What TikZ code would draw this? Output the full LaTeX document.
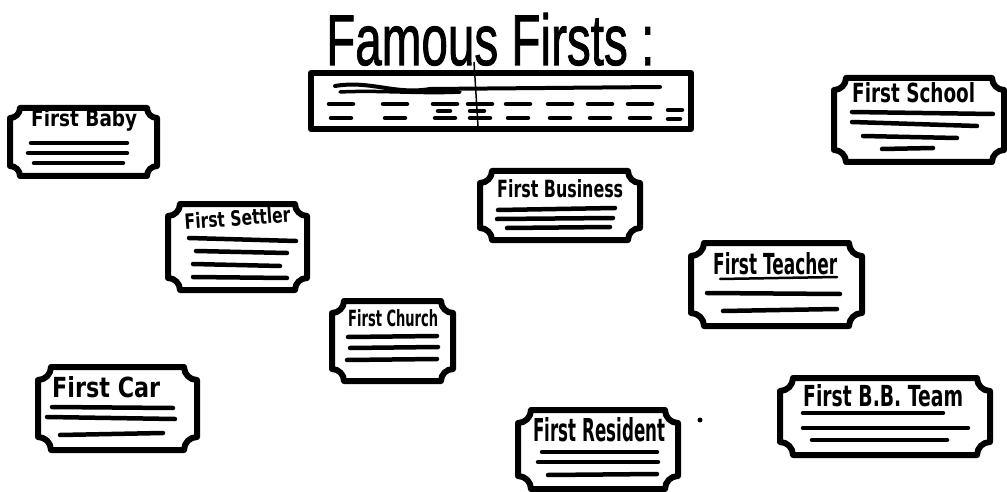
\documentclass[tikz,border=0pt]{standalone}
\usepackage{fontspec}
\setmainfont{Liberation Sans}[FakeBold=1.5]
\newfontfamily\handfont{DejaVu Sans}
\newcommand\lab[3]{\resizebox{#1pt}{#2pt}{\handfont\bfseries #3}}
\newcommand\ticket[5]{%
 \draw[cardline] (#1+#5,#2) -- (#3-#5,#2)
  .. controls (#3-#5,#2+0.55*#5) and (#3-0.55*#5,#2+#5) .. (#3,#2+#5)
  -- (#3,#4-#5)
  .. controls (#3-0.55*#5,#4-#5) and (#3-#5,#4-0.55*#5) .. (#3-#5,#4)
  -- (#1+#5,#4)
  .. controls (#1+#5,#4-0.55*#5) and (#1+0.55*#5,#4-#5) .. (#1,#4-#5)
  -- (#1,#2+#5)
  .. controls (#1+0.55*#5,#2+#5) and (#1+#5,#2+0.55*#5) .. (#1+#5,#2) -- cycle;}
\tikzset{
 cardline/.style={line width=6pt, line join=round, line cap=round},
 textline/.style={line width=4.5pt, line cap=round},
 dashline/.style={line width=4.5pt, line cap=round},
 labelnode/.style={inner sep=0pt, anchor=south west}
}
\begin{document}
\begin{tikzpicture}[x=1pt,y=-1pt]
\useasboundingbox (0,0) rectangle (1007,492);
% title
\node[labelnode, anchor=base west] (title) at (326,65) {\resizebox{328pt}{52pt}{Famous Firsts :}};
% banner
\draw[cardline] (311,73) rectangle (691,129);
\draw[line width=4pt, line cap=round] (335,86) .. controls (370,80) and (395,95) .. (430,89) -- (660,87);
\draw[line width=3.5pt, line cap=round] (340,92) .. controls (380,90) and (420,94) .. (460,92);
\draw[line width=1.5pt] (474,62) -- (478,126);
\foreach \x in {329,383,433,468,506,548,588,628}{
 \draw[dashline] (\x,104) -- (\x+24,104);
 \draw[dashline] (\x+2,118) -- (\x+22,118);
}
\draw[dashline] (438,111) -- (450,111);
\draw[dashline] (470,111) -- (484,111);
\draw[dashline] (668,110) -- (682,110);
\draw[dashline] (668,119) -- (680,119);

% First Baby
\ticket{10}{108}{157}{176}{10}
\node[labelnode] (baby) at (31,132) {\lab{106}{17}{First Baby}};
\draw[textline] (31,143) -- (127,143);
\draw[textline] (28,153) -- (127,153);
\draw[textline] (34,163) -- (123,163);

% First Settler
\ticket{168}{204}{307}{290}{12}
\node[labelnode, rotate=4] (settler) at (185,230) {\lab{106}{16}{First Settler}};
\draw[textline] (189,238) -- (296,241);
\draw[textline] (196,251) -- (287,253);
\draw[textline] (193,264) -- (280,266);
\draw[textline] (193,277) -- (287,278);

% First Business
\ticket{480}{171}{640}{240}{12}
\node[labelnode] (business) at (497,198) {\lab{126}{18}{First Business}};
\draw[textline] (498,210) -- (615,208);
\draw[textline] (497,219) -- (613,218);
\draw[textline] (507,228) -- (610,227);

% First School
\ticket{834}{78}{1004}{162}{12}
\node[labelnode] (school) at (852,103) {\lab{123}{20}{First School}};
\draw[textline] (852,112) -- (993,114);
\draw[textline] (852,122) -- (977,126);
\draw[textline] (863,136) -- (957,138);
\draw[textline] (882,149) -- (933,148);

% First Teacher
\ticket{691}{243}{862}{326}{13}
\node[labelnode] (teacher) at (713,275) {\lab{124}{22}{First Teacher}};
\draw[line width=2.5pt, line cap=round] (720,279) -- (837,277);
\draw[textline] (707,293) -- (840,294);
\draw[textline] (723,311) -- (837,309);

% First Church
\ticket{332}{301}{453}{381}{12}
\node[labelnode] (church) at (348,327) {\lab{90}{17}{First Church}};
\draw[textline] (348,337) -- (437,336);
\draw[textline] (350,348) -- (438,347);
\draw[textline] (347,360) -- (437,359);

% First Car
\ticket{38}{367}{197}{450}{13}
\node[labelnode] (car) at (52,398) {\lab{108}{21}{First Car}};
\draw[textline] (52,407) -- (173,408);
\draw[textline] (47,417) -- (175,419);
\draw[textline] (60,435) -- (163,433);

% First Resident
\ticket{518}{410}{678}{489}{13}
\node[labelnode] (resident) at (533,442) {\lab{132}{24}{First Resident}};
\draw[textline] (542,452) -- (657,452);
\draw[textline] (538,462) -- (658,462);
\draw[textline] (548,475) -- (657,474);
\fill (700,420) circle (2.5pt);

% First B.B. Team
\ticket{780}{378}{990}{455}{13}
\node[labelnode] (bbteam) at (803,407) {\lab{160}{22}{First B.B. Team}};
\draw[textline] (803,413) -- (943,413);
\draw[textline] (803,428) -- (968,428);
\draw[textline] (812,440) -- (947,440);
\end{tikzpicture}
\end{document}
